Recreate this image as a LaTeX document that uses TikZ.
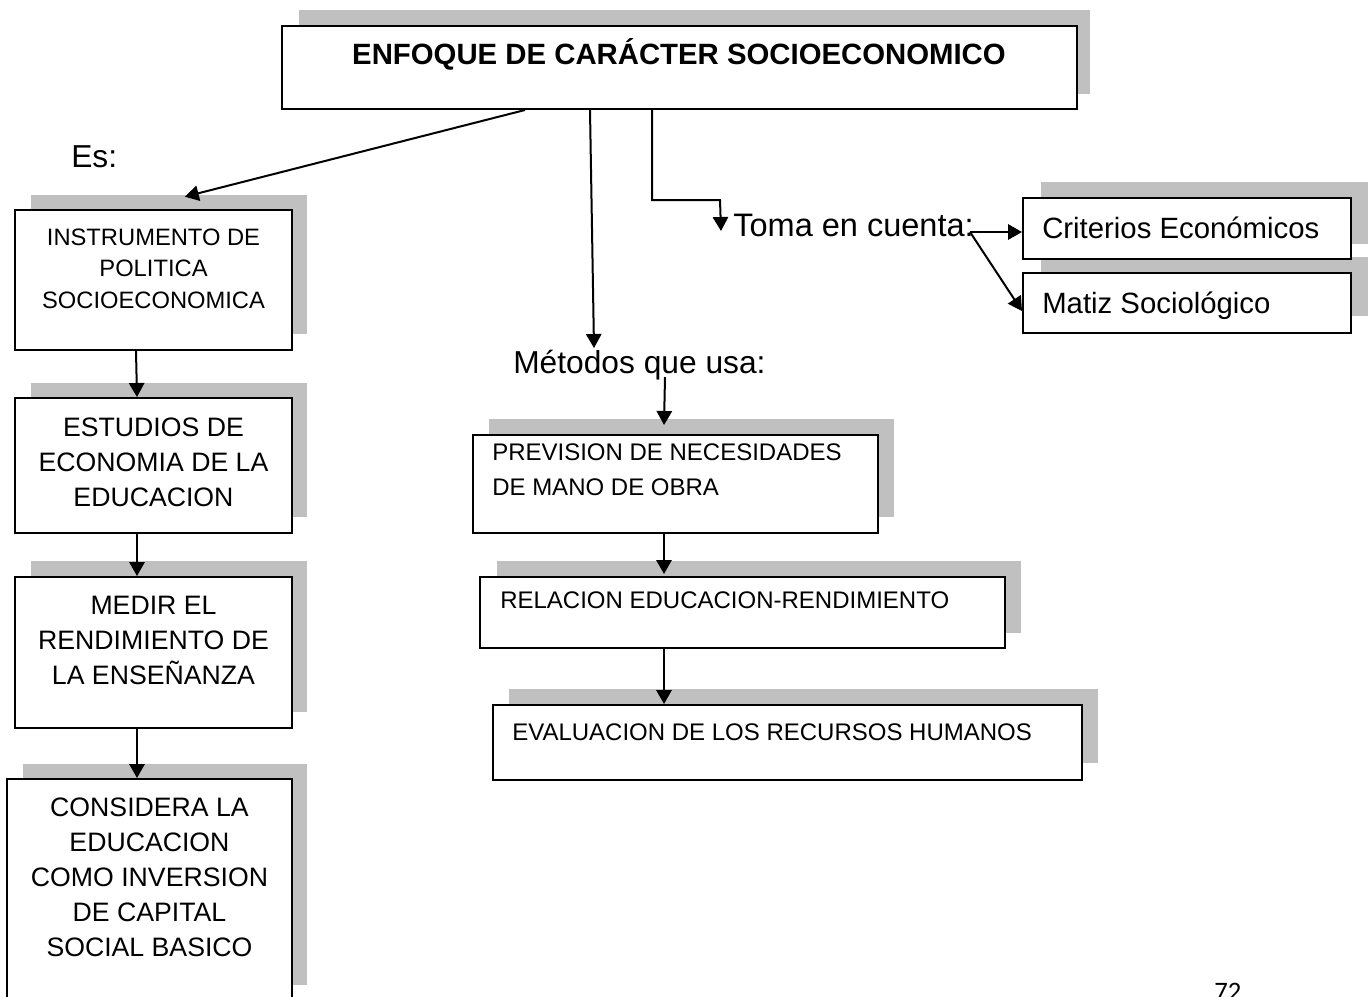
\documentclass[tikz,border=0pt]{standalone}
\usepackage{fontspec}
\setmainfont{Liberation Sans}
\newfontfamily\calib{Carlito}
\usetikzlibrary{fit,calc,arrows.meta}
\definecolor{shadowgray}{RGB}{192,192,192}
\tikzset{
  shadowbox/.style={fill=shadowgray, draw=none, inner sep=0pt},
  box/.style={draw=black, fill=white, line width=1.5pt, inner sep=0pt},
  lbl/.style={inner sep=0pt},
  arr/.style={line width=1.5pt, -{Triangle[length=10.5pt,width=11.5pt]}},
  capsA/.style={font=\fontsize{17.8}{23.6}\selectfont},
  capsB/.style={font=\fontsize{20}{26.25}\selectfont},
  capsC/.style={font=\fontsize{18}{26.25}\selectfont},
  big/.style={font=\fontsize{23.8}{28}\selectfont},
  mid/.style={font=\fontsize{22}{26}\selectfont}
}
\begin{document}
\begin{tikzpicture}[x=0.75pt,y=-0.75pt]
\useasboundingbox (0,0) rectangle (1370,996);
% shadows
\node[shadowbox, fit={(299,10)(1090,94)}] (s0) {};
\node[shadowbox, fit={(31,195)(307,334)}] (s1) {};
\node[shadowbox, fit={(31,383)(307,517)}] (s2) {};
\node[shadowbox, fit={(31,561)(307,712)}] (s3) {};
\node[shadowbox, fit={(23,764)(307,985)}] (s4) {};
\node[shadowbox, fit={(489,419)(894,517)}] (s5) {};
\node[shadowbox, fit={(497,561)(1021,633)}] (s6) {};
\node[shadowbox, fit={(509,689)(1098,763)}] (s7) {};
\node[shadowbox, fit={(1041,182)(1368,244)}] (s8) {};
\node[shadowbox, fit={(1041,257)(1368,316)}] (s9) {};
% boxes
\node[box, fit={(282,26)(1077,109)}] (main) {};
\node[box, fit={(15,210)(292,350)}] (b1) {};
\node[box, fit={(15,398)(292,533)}] (b2) {};
\node[box, fit={(15,577)(292,728)}] (b3) {};
\node[box, fit={(7,779)(292,1010)}] (b4) {};
\node[box, fit={(473,435)(878,533)}] (b5) {};
\node[box, fit={(480,577)(1005,648)}] (b6) {};
\node[box, fit={(493,705)(1082,780)}] (b7) {};
\node[box, fit={(1023,198)(1351,259)}] (b8) {};
\node[box, fit={(1023,273)(1351,333)}] (b9) {};
% texts
\node[lbl, anchor=base, font=\fontsize{22}{26}\selectfont\bfseries] (title) at (679,64.5) {ENFOQUE DE CARÁCTER SOCIOECONOMICO};
\node[lbl, capsA, anchor=north, align=center] (t1) at (153.5,228.5) {INSTRUMENTO DE\\POLITICA\\SOCIOECONOMICA};
\node[lbl, capsB, anchor=north, align=center] (t2) at (153.5,417.5) {ESTUDIOS DE\\ECONOMIA DE LA\\EDUCACION};
\node[lbl, capsB, anchor=north, align=center] (t3) at (153.5,595.5) {MEDIR EL\\RENDIMIENTO DE\\LA ENSEÑANZA};
\node[lbl, capsB, anchor=north, align=center] (t4) at (149.5,797.5) {CONSIDERA LA\\EDUCACION\\COMO INVERSION\\DE CAPITAL\\SOCIAL BASICO};
\node[lbl, capsC, anchor=north west, align=left] (t5) at (492,443.4) {PREVISION DE NECESIDADES\\DE MANO DE OBRA};
\node[lbl, capsC, anchor=base west] (t6) at (500,608.6) {RELACION EDUCACION-RENDIMIENTO};
\node[lbl, capsC, anchor=base west] (t7) at (512,740.6) {EVALUACION DE LOS RECURSOS HUMANOS};
\node[lbl, mid, anchor=base west] (t8) at (1042,238.5) {Criterios Económicos};
\node[lbl, mid, anchor=base west] (t9) at (1042,313.5) {Matiz Sociológico};
\node[lbl, big, anchor=base west] (es) at (71,167) {Es:};
\node[lbl, anchor=base west, font=\fontsize{24.4}{28}\selectfont] (toma) at (733,236) {Toma en cuenta:};
\node[lbl, big, anchor=base west] (met) at (513,373) {Métodos que usa:};
\node[lbl, anchor=base west, font=\calib\fontsize{20}{24}\selectfont] (pg) at (1214,1000) {72};
% connector coordinates
\coordinate (mtip) at (594,348);
\coordinate (tc) at (970,232);
% arrows
\draw[arr] ($(main.south west)+(244,0)$) -- ($(s1.north west)+(154,2)$);
\draw[arr] ($(b1.south west)+(122,0)$) -- ($(b2.north west)+(123,0)$);
\draw[arr] ($(b2.south west)+(123,0)$) -- ($(b3.north west)+(123,0)$);
\draw[arr] ($(b3.south west)+(123,0)$) -- ($(b4.north west)+(131,0)$);
\draw[arr] ($(main.south west)+(309,0)$) -- (mtip);
\draw[arr] ($(met.base west)+(152,4)$) -- ($(b5.north west)+(192,-9)$);
\draw[arr] ($(b5.south west)+(192,0)$) -- ($(b6.north west)+(185,-2)$);
\draw[arr] ($(b6.south west)+(185,0)$) -- ($(b7.north west)+(172,0)$);
\draw[arr] ($(main.south west)+(371,0)$) -- ++(0,90) -- ++(68,0) -- ($(toma.base west)+(-12,-5)$);
\draw[arr] (tc) -- (b8.west |- tc);
\draw[arr] (tc) -- ($(b9.north west)+(0,39)$);
\end{tikzpicture}
\end{document}
